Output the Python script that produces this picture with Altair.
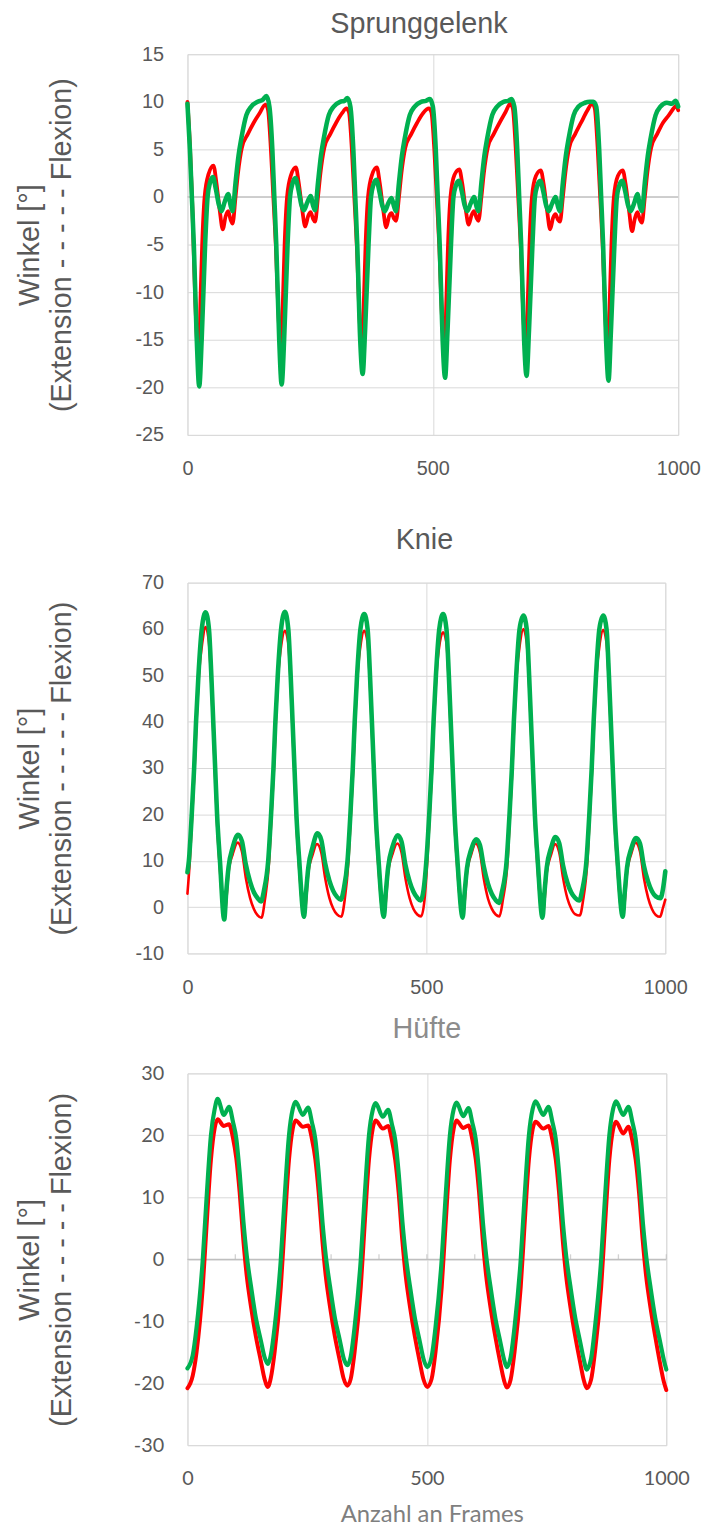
import altair as alt
import pandas as pd

# ---------------- Sprunggelenk (ankle) ----------------
ankle_red_frames = [0, 5, 10, 16, 23, 27, 30, 35, 43, 53, 59, 66, 72, 78, 83, 88, 92, 98, 103, 111, 123, 135, 147, 159, 164, 170, 175, 180, 186,
                    191, 195, 198, 203, 211, 221, 227, 234, 240, 246, 251, 256, 260, 266, 271, 279, 291, 303, 315, 324, 329, 335, 340, 345, 351,
                    356, 360, 363, 368, 376, 386, 392, 399, 405, 411, 416, 421, 425, 431, 436, 444, 456, 468, 480, 492, 497, 503, 508, 513, 519,
                    524, 528, 531, 536, 544, 554, 560, 567, 573, 579, 584, 589, 593, 599, 604, 612, 624, 636, 648, 658, 663, 669, 674, 679, 685,
                    690, 694, 697, 702, 710, 720, 726, 733, 739, 745, 750, 755, 759, 765, 770, 778, 790, 802, 814, 825, 830, 836, 841, 846, 852,
                    857, 861, 864, 869, 877, 887, 893, 900, 906, 912, 917, 922, 926, 932, 937, 945, 957, 969, 981, 992, 996, 1000]
ankle_red_values = [10.0, 5.5, -1, -11, -17.1, -10, -5, 0, 2.4, 3.3, 1.5, -1.5, -3.4, -2.0, -1.5, -2.4, -2.8, 0, 2.5, 5.2, 6.6, 7.8, 8.8, 9.7, 9.2, 5, 0, -5, -13,
                    -16.7, -10, -5, 0, 2.3, 3.1, 1.4, -1.4, -3.1, -2.0, -1.6, -2.3, -2.6, 0, 2.5, 5.2, 6.6, 7.8, 8.8, 9.3, 8.9, 5, 0, -5, -13,
                    -16.4, -10, -5, 0, 2.3, 3.1, 1.4, -1.4, -3.2, -2.0, -1.7, -2.3, -2.5, 0, 2.5, 5.2, 6.6, 7.8, 8.8, 9.3, 8.9, 5, 0, -5, -13,
                    -16.2, -10, -5, 0, 2.3, 2.9, 1.4, -1.3, -2.9, -1.9, -1.5, -2.2, -2.5, 0, 2.5, 5.2, 6.6, 7.8, 8.9, 9.8, 9.3, 5, 0, -5, -13,
                    -16.5, -10, -5, 0, 2.2, 2.8, 1.3, -1.5, -3.4, -2.2, -1.8, -2.4, -2.6, 0, 2.5, 5.2, 6.6, 7.8, 9.0, 9.8, 9.3, 5, 0, -5, -13,
                    -16.9, -10, -5, 0, 2.2, 2.8, 1.3, -1.5, -3.6, -2.2, -1.6, -2.4, -2.7, 0, 2.5, 5.2, 6.6, 7.8, 8.6, 9.4, 9.6, 9.1]

ankle_green_frames = [0, 5, 9, 13, 19, 24, 29, 36, 41, 46, 52, 58, 64, 69, 76, 83, 88, 92, 98, 104, 110, 120, 130, 143, 153, 161, 167, 173, 177, 181, 187,
                      192, 197, 204, 209, 214, 220, 226, 232, 237, 244, 251, 256, 260, 266, 272, 278, 288, 298, 311, 320, 326, 332, 338, 342, 346, 352,
                      357, 362, 369, 374, 379, 385, 391, 397, 402, 409, 416, 421, 425, 431, 437, 443, 453, 463, 476, 486, 494, 500, 506, 510, 514, 520,
                      525, 530, 537, 542, 547, 553, 559, 565, 570, 577, 584, 589, 593, 599, 605, 611, 621, 631, 644, 654, 660, 666, 672, 676, 680, 686,
                      691, 696, 703, 708, 713, 719, 725, 731, 736, 743, 750, 755, 759, 765, 771, 777, 787, 797, 810, 820, 827, 833, 839, 843, 847, 853,
                      858, 863, 870, 875, 880, 886, 892, 898, 903, 910, 917, 922, 926, 932, 938, 944, 954, 964, 977, 987, 995, 1000]
ankle_green_values = [9.8, 5.0, 0.0, -5.0, -15.0, -19.9, -15.0, -5.0, 0.0, 1.5, 2.1, 0.8, -0.8, -1.5, -0.5, 0.3, -0.9, -1.5, 1.5, 4.3, 6.2, 8.6, 9.5, 10.0, 10.2, 10.6, 9.5, 5.0, 0.0, -5.0, -15.0,
                      -19.7, -15, -5, 0, 1.4, 2.0, 0.8, -0.8, -1.4, -0.6, 0.1, -0.9, -1.4, 1.5, 4.3, 6.2, 8.6, 9.5, 10.0, 10.1, 10.4, 9.5, 5.0, 0.0, -5.0, -15.0,
                      -18.6, -14, -5, 0, 1.3, 1.8, 0.6, -0.9, -1.5, -0.7, -0.1, -1.0, -1.5, 1.5, 4.3, 6.2, 8.6, 9.5, 10.0, 10.1, 10.3, 9.5, 5.0, 0.0, -5.0, -15.0,
                      -19.0, -14, -5, 0, 1.2, 1.7, 0.6, -0.9, -1.5, -0.7, 0.0, -1.0, -1.5, 1.5, 4.3, 6.2, 8.6, 9.5, 10.0, 10.1, 10.3, 9.5, 5.0, 0.0, -5.0, -15.0,
                      -18.8, -14, -5, 0, 1.2, 1.7, 0.6, -0.9, -1.5, -0.7, 0.0, -1.0, -1.5, 1.5, 4.3, 6.2, 8.6, 9.5, 9.9, 10.0, 10.0, 9.5, 5.0, 0.0, -5.0, -15.0,
                      -19.3, -14, -5, 0, 1.2, 1.7, 0.6, -0.9, -1.5, -0.7, 0.3, -1.0, -1.5, 1.5, 4.3, 6.2, 8.6, 9.5, 9.9, 9.8, 10.1, 9.5]

# ---------------- Knie (knee) ----------------
knee_red_frames = [0, 5, 10, 15, 19, 24, 31, 38, 45, 50, 54, 58, 62, 68, 77, 81, 86, 95, 105, 114, 122, 131, 139, 147, 155, 162,
                   171, 176, 181, 185, 190, 197, 204, 211, 216, 220, 224, 228, 234, 244, 248, 253, 262, 271, 280, 288, 297, 305, 313, 322, 329,
                   337, 342, 347, 351, 356, 363, 370, 377, 382, 386, 390, 394, 400, 411, 415, 420, 429, 439, 448, 456, 465, 473, 481, 489, 496,
                   502, 507, 512, 516, 521, 528, 535, 542, 547, 551, 555, 559, 565, 576, 580, 585, 594, 603, 612, 620, 629, 637, 645, 653, 660,
                   670, 675, 680, 684, 689, 696, 703, 710, 715, 719, 723, 727, 733, 743, 747, 752, 761, 769, 778, 786, 795, 803, 811, 821, 828,
                   837, 842, 847, 851, 856, 863, 870, 877, 882, 886, 890, 894, 900, 911, 915, 920, 929, 938, 947, 955, 964, 972, 980, 989, 995, 1000]
knee_red_values = [2.9, 10, 20, 30, 40, 50, 57, 60.4, 57, 48, 38, 28, 18, 8, -2.2, 1, 7.5, 11.5, 13.9, 12, 6.4, 2.0, -0.4, -1.8, -2.3, 1.5,
                   10, 20, 30, 40, 50, 57, 59.6, 57, 48, 38, 28, 18, 8, -2.2, 1, 7.5, 11.3, 13.6, 11.8, 6.4, 2.0, -0.3, -1.6, -2.1, 1.5,
                   10, 20, 30, 40, 50, 57, 59.6, 57, 48, 38, 28, 18, 8, -2.2, 1, 7.5, 11.4, 13.7, 11.8, 6.3, 1.9, -0.4, -1.6, -2.0, 1.5,
                   10, 20, 30, 40, 50, 57, 59.3, 57, 48, 38, 28, 18, 8, -2.2, 1, 7.4, 11.4, 13.7, 11.8, 6.2, 1.8, -0.4, -1.6, -2.0, 1.5,
                   10, 20, 30, 40, 50, 57, 60.0, 57, 48, 38, 28, 18, 8, -2.2, 1, 7.5, 11.3, 13.6, 11.8, 6.3, 1.9, -0.3, -1.5, -1.8, 1.5,
                   10, 20, 30, 40, 50, 57, 59.8, 57, 48, 38, 28, 18, 8, -2.2, 1, 7.5, 11.6, 13.9, 12.0, 6.4, 2.0, -0.4, -1.7, -2.1, -0.2, 1.6]

knee_green_frames = [0, 3, 9, 14, 18, 23, 30, 38, 45, 50, 54, 58, 62, 68, 77, 81, 86, 95, 106, 114, 122, 131, 139, 147, 154, 160,
                     169, 175, 180, 184, 189, 196, 204, 211, 216, 220, 224, 228, 234, 244, 248, 253, 262, 272, 280, 288, 297, 305, 313, 321, 327,
                     335, 341, 346, 350, 355, 362, 370, 377, 382, 386, 390, 394, 400, 411, 415, 420, 429, 440, 448, 456, 465, 473, 481, 488, 494,
                     500, 506, 511, 515, 520, 527, 535, 542, 547, 551, 555, 559, 565, 576, 580, 585, 594, 604, 612, 620, 629, 637, 645, 652, 658,
                     668, 674, 679, 683, 688, 695, 703, 710, 715, 719, 723, 727, 733, 743, 747, 752, 761, 770, 778, 786, 795, 803, 811, 820, 826,
                     835, 841, 846, 850, 855, 862, 870, 877, 882, 886, 890, 894, 900, 911, 915, 920, 929, 939, 947, 955, 964, 972, 980, 990, 995, 1000]
knee_green_values = [7.5, 10, 20, 30, 40, 50, 60, 63.6, 60, 50, 40, 30, 20, 10, -2.7, 3, 8.6, 13, 15.6, 14.2, 9.3, 5.5, 3.2, 1.9, 1.2, 3.5,
                     10, 20, 30, 40, 50, 60, 63.7, 60, 50, 40, 30, 20, 10, -2.1, 3, 8.6, 13, 15.9, 14.5, 9.5, 5.7, 3.5, 2.2, 1.6, 3.8,
                     10, 20, 30, 40, 50, 60, 63.2, 60, 50, 40, 30, 20, 10, -2.1, 3, 8.6, 13, 15.5, 14.1, 9.2, 5.5, 3.3, 2.0, 1.4, 3.6,
                     10, 20, 30, 40, 50, 60, 63.2, 60, 50, 40, 30, 20, 10, -2.3, 3, 8.4, 12.5, 14.6, 13.4, 8.8, 5.0, 2.8, 1.5, 0.9, 3.2,
                     10, 20, 30, 40, 50, 60, 62.9, 60, 50, 40, 30, 20, 10, -2.3, 3, 8.6, 12.8, 15.1, 13.8, 9.0, 5.3, 3.2, 2.0, 1.4, 3.6,
                     10, 20, 30, 40, 50, 60, 62.9, 60, 50, 40, 30, 20, 10, -2.1, 3, 8.6, 12.7, 14.9, 13.7, 9.0, 5.5, 3.4, 2.3, 1.9, 3.8, 7.7]

# ---------------- Hüfte (hip) ----------------
hip_frames = [0, 11, 19, 32, 40, 49, 57, 63, 76, 87, 95, 102, 109, 117, 124, 133, 143, 153, 161, 168,
              174, 182, 195, 203, 212, 220, 226, 241, 252, 260, 267, 274, 282, 289, 298, 308, 318, 326, 334,
              341, 349, 362, 370, 379, 387, 393, 408, 419, 427, 434, 441, 449, 456, 465, 475, 485, 493, 501,
              510, 518, 531, 539, 548, 556, 562, 576, 587, 595, 602, 609, 617, 624, 633, 643, 653, 661, 667,
              675, 683, 696, 704, 713, 721, 727, 743, 754, 762, 769, 776, 784, 791, 800, 810, 820, 828, 834,
              843, 851, 864, 872, 881, 889, 895, 910, 921, 929, 936, 943, 951, 958, 967, 977, 987, 995, 1000]
hip_red_values = [-20.8, -18.8, -15, -4.5, 5.5, 16, 21.2, 22.6, 21.5, 21.8, 19.6, 16.3, 10.8, 2.8, -2.8, -7.8, -12.5, -16.3, -19.3, -20.6,
                  -19.2, -15, -4.5, 5.5, 16, 21.1, 22.4, 21.4, 21.6, 19.4, 16.2, 10.8, 2.8, -2.8, -7.8, -12.5, -16.3, -19.2, -20.4,
                  -19.3, -15, -4.5, 5.5, 16, 21.1, 22.4, 21.1, 21.5, 19.2, 16.0, 10.8, 2.8, -2.8, -7.8, -12.5, -16.5, -19.4, -20.6,
                  -19.3, -15, -4.5, 5.5, 16, 21.1, 22.4, 21.2, 21.6, 19.3, 16.2, 10.8, 2.8, -2.8, -7.8, -12.5, -16.6, -19.5, -20.7,
                  -19.4, -15, -4.5, 5.5, 16, 21.0, 22.2, 21.1, 21.5, 19.3, 16.2, 10.8, 2.8, -2.8, -7.8, -12.5, -16.6, -19.6, -20.8,
                  -19.4, -15, -4.5, 5.5, 16, 21.0, 22.2, 20.3, 21.4, 19.2, 16.1, 10.8, 2.8, -2.8, -7.8, -12.5, -16.8, -19.8, -21.1]
hip_green_values = [-17.6, -15.5, -11, 0, 10, 20, 24.3, 25.9, 23.3, 24.6, 22.2, 19.5, 14, 6, 0.5, -4.5, -9.5, -13, -15.8, -16.9,
                    -15.5, -11, 0, 10, 20, 24.3, 25.4, 23.3, 24.5, 22.1, 19.4, 14, 6, 0.5, -4.5, -9.5, -13, -15.9, -17.1,
                    -15.7, -11, 0, 10, 20, 24.1, 25.2, 23.0, 24.1, 21.8, 19.2, 14, 6, 0.5, -4.5, -9.5, -13.2, -16.1, -17.4,
                    -15.7, -11, 0, 10, 20, 24.2, 25.3, 23.1, 24.4, 22.0, 19.4, 14, 6, 0.5, -4.5, -9.5, -13.2, -16.1, -17.4,
                    -15.8, -11, 0, 10, 20, 24.3, 25.5, 23.3, 24.6, 22.2, 19.5, 14, 6, 0.5, -4.5, -9.5, -13.3, -16.3, -17.8,
                    -16.0, -11, 0, 10, 20, 24.3, 25.5, 23.3, 24.6, 22.2, 19.5, 14, 6, 0.5, -4.5, -9.5, -13.3, -16.3, -17.8]

x_tick_labels = [0, 500, 1000]
ankle_y_ticks = [-25, -20, -15, -10, -5, 0, 5, 10, 15]
knee_y_ticks = [-10, 0, 10, 20, 30, 40, 50, 60, 70]
hip_y_ticks = [-30, -20, -10, 0, 10, 20, 30]
hip_minor_ticks = [100, 200, 300, 400, 500, 600, 700, 800, 900, 1000]

y_title = ["Winkel [°]", "(Extension - - - - - Flexion)"]

RED = "#ff0000"
GREEN = "#00b050"
TXT = "#595959"
GRID = "#d9d9d9"
ARIAL = "Liberation Sans"
PLAIN = "'' + datum.value"


def series_df(frames, values):
    return pd.DataFrame({"frame": frames, "value": values})


def make_panel(title, title_params, red, green, y_ticks, ydom, w, h, red_w, green_w,
               title_x, zero_line=False, minor_ticks=None, x_title=None, tick_font=ARIAL,
               x_label_pad=24):
    xscale = alt.Scale(domain=[0, 1000], nice=False, zero=False)
    yscale = alt.Scale(domain=ydom, nice=False, zero=False)
    x_extra = {}
    if x_title:
        x_extra = {"titleFont": "Lato", "titleFontSize": 24, "titleColor": "#7f7f7f",
                   "titleFontWeight": "normal", "titleBaseline": "alphabetic",
                   "titleX": w / 2 + 5, "titleY": 77, "titleAlign": "center"}
    x_axis = alt.Axis(values=x_tick_labels, grid=True, gridColor=GRID, domain=False, ticks=False,
                      labelPadding=x_label_pad, labelFont=tick_font, labelFontSize=20, labelColor=TXT,
                      labelFlush=False, labelOverlap=False, labelExpr=PLAIN,
                      title=x_title if x_title else None, **x_extra)
    y_axis = alt.Axis(values=y_ticks, grid=True, gridColor=GRID, domain=False, ticks=False,
                      labelPadding=24, labelFont=tick_font, labelFontSize=20, labelColor=TXT,
                      labelFlush=False, labelExpr=PLAIN,
                      title=y_title, titleFont=ARIAL, titleFontSize=29, titleColor=TXT,
                      titleFontWeight="normal", titleBaseline="alphabetic", titleAlign="center",
                      titleAngle=270, titleX=title_x, titleY=h / 2, titleLineHeight=32)
    base_x = alt.X("frame:Q", scale=xscale, axis=x_axis)
    base_y = alt.Y("value:Q", scale=yscale, axis=y_axis)

    layers = []
    if zero_line:
        layers.append(
            alt.Chart(pd.DataFrame({"value": [0]})).mark_rule(color="#bfbfbf", strokeWidth=1.3)
            .encode(y=base_y)
        )
    if minor_ticks:
        layers.append(
            alt.Chart(pd.DataFrame({"frame": minor_ticks, "value": [0] * len(minor_ticks)}))
            .mark_tick(orient="vertical", color="#bfbfbf", size=5, thickness=1.3, yOffset=-2.5)
            .encode(x=base_x, y=base_y)
        )
    layers.append(
        alt.Chart(series_df(*red)).mark_line(color=RED, strokeWidth=red_w, interpolate="monotone",
                                             strokeJoin="round", strokeCap="round")
        .encode(x=base_x, y=base_y)
    )
    layers.append(
        alt.Chart(series_df(*green)).mark_line(color=GREEN, strokeWidth=green_w, interpolate="monotone",
                                               strokeJoin="round", strokeCap="round")
        .encode(x=base_x, y=base_y)
    )
    return alt.layer(*layers).properties(width=w, height=h, title=alt.TitleParams(title, **title_params))


ankle = make_panel(
    "Sprunggelenk",
    dict(font=ARIAL, fontSize=29, color=TXT, fontWeight="normal", offset=-18, baseline="alphabetic",
         anchor="middle", frame="group", dx=-14),
    (ankle_red_frames, ankle_red_values), (ankle_green_frames, ankle_green_values),
    ankle_y_ticks, [-25, 15], 495, 384, 3.8, 4.6, -150, zero_line=True)

knee = make_panel(
    "Knie",
    dict(font=ARIAL, fontSize=29, color=TXT, fontWeight="normal", offset=-5, baseline="alphabetic",
         anchor="middle", frame="group", dx=-2),
    (knee_red_frames, knee_red_values), (knee_green_frames, knee_green_values),
    knee_y_ticks, [-10, 70], 482, 374, 2.6, 4.6, -150)

hip = make_panel(
    "Hüfte",
    dict(font=ARIAL, fontSize=29, color="#8c8c8c", fontWeight="normal", offset=-3, baseline="alphabetic",
         anchor="middle", frame="group", dx=0),
    (hip_frames, hip_red_values), (hip_frames, hip_green_values),
    hip_y_ticks, [-30, 30], 483, 375, 4.0, 4.2, -150, zero_line=True, minor_ticks=hip_minor_ticks,
    x_title="Anzahl an Frames", tick_font="Lato")

chart = alt.vconcat(alt.vconcat(ankle, knee, spacing=46), hip, spacing=16).properties(
    padding={"left": 7, "top": -5, "right": 0, "bottom": 0}
).configure_view(stroke=GRID, strokeWidth=1).configure(background="white")

chart.save("out.html", embed_options={"renderer": "svg", "actions": False})
